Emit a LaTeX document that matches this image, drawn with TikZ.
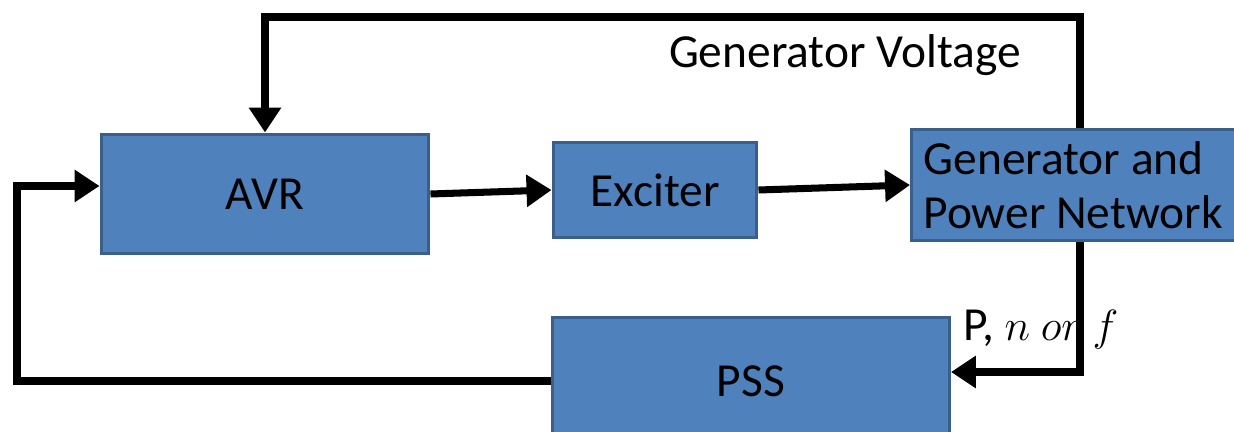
\documentclass[tikz,border=0pt]{standalone}
\usepackage{fontspec}
\setmainfont{Carlito}
\usetikzlibrary{arrows.meta, positioning, calc}

\begin{document}
\begin{tikzpicture}[x=0.02cm, y=-0.02cm,
    block/.style={draw=blockline, fill=blockfill, line width=1.7pt, inner sep=0pt,
        font=\fontsize{27}{31}\selectfont},
    arr/.style={line width=4pt, -{Triangle[length=0.5cm, width=0.62cm]}}]
    \definecolor{blockfill}{HTML}{4F81BD}
    \definecolor{blockline}{HTML}{3A5F8B}
    \useasboundingbox (0,0) rectangle (1234,432);
    \clip (0,0) rectangle (1234,432);

    \node[block, minimum width=6.56cm, minimum height=2.4cm] (avr) at (265,194) {AVR};
    \node[block, minimum width=4.08cm, minimum height=1.92cm] (exc) at (655,190) {Exciter};
    \node[block, minimum width=6.74cm, minimum height=2.24cm, text width=6.26cm,
        inner xsep=0.24cm, align=flush left] (gen) at (1080,185) {Generator and\\Power Network};
    \node[block, minimum width=7.94cm, minimum height=2.54cm] (pss) at (751,381) {PSS};

    \coordinate (top) at (0,17);
    \coordinate (lft) at (17,0);

    \draw[arr] (avr.east) -- (exc.west);
    \draw[arr] (exc.east) -- (gen.west);
    \draw[arr] (gen.north) -- (gen.north |- top) -| (avr.north);
    \draw[arr] (gen.south) |- ($(pss.east)+(0,-9)$);
    \draw[arr] (pss.west) -- (pss.west -| lft) |- ($(avr.west)+(0,-8)$);

    \node[font=\fontsize{27}{31}\selectfont] (vlabel) at (845,55) {Generator Voltage};
    \node[font=\fontsize{27}{31}\selectfont] (plabel) at (1041,330) {P, $n\ or\ f$};
\end{tikzpicture}
\end{document}
